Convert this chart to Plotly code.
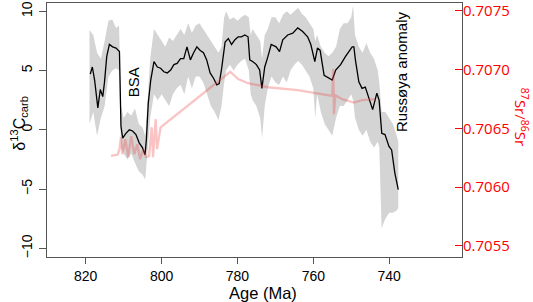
import plotly.graph_objects as go

# d13C carb (black line)
c_age = [818.8, 818.25, 817.65, 816.8, 816.15, 815.5, 815.05, 814.45, 813.75, 812.9, 812.0, 811.1,
         810.7, 810.25, 809.4, 808.5, 807.65, 806.75, 805.9, 805.05, 804.35, 804.0, 803.5, 802.85,
         802.0, 801.1, 800.25, 799.4, 798.5, 797.6, 796.75, 795.9, 795.0, 794.15, 793.3, 792.4,
         791.55, 790.7, 789.8, 788.95, 788.1, 787.2, 786.3, 785.45, 784.8, 784.15, 783.25, 782.4,
         781.55, 780.65, 779.8, 778.95, 778.05, 777.2, 776.75, 775.9, 775.0, 774.15, 773.55, 772.8,
         771.95, 771.1, 769.8, 768.9, 768.05, 766.75, 765.4, 764.1, 762.8, 761.5, 760.65, 759.6,
         758.9, 758.2, 757.15, 755.85, 755.0, 754.1, 752.8, 751.5, 750.6, 749.75, 749.3, 748.9,
         748.0, 747.15, 746.3, 745.4, 744.35, 743.25, 742.65, 741.95, 741.1, 740.05, 739.35, 738.5, 737.6]
c_val = [4.7, 5.3, 4.2, 1.85, 3.4, 2.8, 4.0, 6.2, 7.2, 7.0, 6.9, 6.6,
         0.3, -0.7, -0.3, 0.0, -0.1, -0.4, -1.1, -1.5, -2.1, -0.8, 2.25, 4.2,
         5.75, 5.3, 5.2, 4.9, 4.8, 5.05, 5.5, 5.6, 6.0, 6.0, 7.0, 5.9,
         6.5, 7.0, 6.7, 6.5, 5.9, 4.8, 4.35, 3.8, 3.9, 5.2, 7.4, 7.7,
         7.2, 7.6, 7.85, 7.85, 8.0, 7.85, 5.9, 5.75, 5.5, 5.05, 3.5, 5.3,
         6.2, 7.2, 7.0, 6.6, 7.6, 8.0, 8.15, 8.6, 8.3, 7.85, 7.2, 5.75,
         6.9, 6.7, 4.6, 4.35, 4.2, 5.05, 5.5, 6.2, 6.6, 7.0, 7.0, 5.9,
         4.05, 3.5, 3.6, 2.8, 1.7, 3.1, 2.5, -0.3, -0.4, -1.4, -1.7, -3.65, -5.05]

# uncertainty envelope (grey band)
b_age = [819.0, 818.0, 817.0, 816.0, 815.0, 814.0, 813.0, 812.0, 811.2, 810.7, 810.0, 809.0, 808.0,
         807.0, 806.0, 805.0, 804.3, 803.8, 803.0, 802.0, 801.0, 800.0, 799.0, 798.0, 797.0, 796.0,
         795.0, 794.0, 793.0, 792.0, 791.0, 790.0, 789.0, 788.0, 787.0, 786.0, 785.0, 784.2, 783.5,
         783.0, 782.0, 781.0, 780.0, 779.0, 778.0, 777.0, 776.5, 776.0, 775.0, 774.0, 773.5, 772.8,
         772.0, 771.0, 770.0, 769.0, 768.0, 767.0, 766.0, 765.0, 764.0, 763.0, 762.0, 761.0, 760.0,
         759.5, 759.0, 758.0, 757.0, 756.0, 755.0, 754.0, 753.0, 752.0, 751.0, 750.0, 749.5, 749.0,
         748.0, 747.0, 746.0, 745.0, 744.0, 743.0, 742.6, 742.0, 741.0, 740.0, 739.0, 738.0, 737.6]
b_up = [8.4, 8.0, 6.5, 6.0, 7.5, 9.2, 9.3, 8.6, 8.8, 2.0, 1.0, 1.5, 1.2,
        1.8, 0.5, 0.2, -0.5, 2.0, 6.0, 8.5, 8.0, 7.5, 7.0, 7.8, 7.5, 8.0,
        8.5, 8.0, 9.0, 8.2, 8.8, 9.0, 8.5, 8.0, 7.5, 7.0, 6.5, 7.0, 9.5,
        10.0, 9.3, 9.5, 9.2, 9.5, 9.7, 9.5, 8.0, 8.5, 8.0, 7.5, 6.0, 8.0,
        8.5, 9.5, 9.5, 9.0, 9.7, 10.0, 9.7, 10.0, 10.3, 9.8, 9.5, 9.0, 8.5,
        7.5, 8.0, 7.0, 6.5, 6.2, 6.5, 7.0, 8.5, 9.0, 9.0, 9.5, 10.5, 8.0,
        7.0, 6.5, 7.3, 6.5, 6.0, 5.0, 4.0, 1.5, 1.5, 1.0, 0.5, -0.5, -1.0]
b_lo = [0.5, 1.5, -0.5, 1.0, 2.0, 4.5, 5.0, 5.2, 5.0, -1.5, -2.0, -2.5, -2.0,
        -2.8, -3.5, -3.8, -4.2, -2.5, 1.0, 3.0, 2.5, 3.0, 2.5, 2.0, 3.0, 3.5,
        3.8, 3.0, 4.5, 3.5, 4.5, 4.5, 4.0, 3.0, 2.0, 1.5, 0.8, 2.0, 4.0,
        5.0, 5.5, 5.0, 5.5, 5.8, 6.0, 5.0, 3.0, 2.5, 2.0, 1.0, -0.7, 2.0,
        3.5, 4.5, 4.0, 3.8, 4.5, 4.0, 5.0, 5.5, 5.8, 5.5, 5.0, 4.5, 3.5,
        1.0, 3.0, 1.5, 0.5, 0.0, -0.5, 1.0, 2.0, 2.0, 2.5, 3.0, 2.5, 1.0,
        0.0, -0.5, 0.0, -1.0, -1.5, -1.0, -1.5, -8.3, -7.5, -7.0, -7.0, -6.8, -6.6]

# 87Sr/86Sr (pink line)
s_age = [813.3, 811.55, 811.1, 810.7, 810.35, 809.55, 808.8, 808.0, 807.2, 806.4, 805.65, 804.85,
         804.1, 803.3, 802.6, 802.25, 801.55, 801.2, 800.25, 782.4, 781.9, 779.8, 777.2, 771.95,
         764.1, 755.0, 754.75, 754.55, 754.2, 752.4, 749.3, 747.15, 743.7]
s_val = [0.706267, 0.706278, 0.706324, 0.706426, 0.706281, 0.706409, 0.706256, 0.706434, 0.706281,
         0.706366, 0.706239, 0.706324, 0.706256, 0.706264, 0.706511, 0.706256, 0.706579, 0.706324,
         0.706509, 0.706977, 0.706983, 0.706920, 0.706885, 0.706851, 0.706826, 0.706777, 0.707005,
         0.706622, 0.706783, 0.706749, 0.706721, 0.706741, 0.706749]

x_ticks = [820, 800, 780, 760, 740]
y_ticks = [-10, -5, 0, 5, 10]
y2_ticks = [0.7055, 0.7060, 0.7065, 0.7070, 0.7075]

fig = go.Figure()
fig.add_trace(go.Scatter(x=b_age + b_age[::-1], y=b_up + b_lo[::-1], fill="toself",
                         fillcolor="#d4d4d4", line=dict(width=0), mode="lines",
                         hoverinfo="skip", showlegend=False))
fig.add_trace(go.Scatter(x=s_age, y=s_val, yaxis="y2", mode="lines",
                         line=dict(color="rgba(240,70,70,0.32)", width=2.3), showlegend=False))
fig.add_trace(go.Scatter(x=c_age, y=c_val, mode="lines",
                         line=dict(color="black", width=1.3), showlegend=False))

axcol = "#555555"
fig.update_layout(
    width=533, height=302,
    margin=dict(l=47, r=71, t=3, b=45, autoexpand=False),
    plot_bgcolor="white", paper_bgcolor="white",
    font=dict(family="Liberation Sans, Arial, sans-serif", size=14, color="black"),
    xaxis=dict(range=[830.2, 720.8], tickvals=x_ticks, ticks="outside", ticklen=6,
               tickcolor=axcol, showline=True, linecolor=axcol, linewidth=1, mirror=True,
               showgrid=False, zeroline=False, tickfont=dict(size=14), automargin=False),
    yaxis=dict(range=[-10.73, 10.7], tickvals=y_ticks, ticks="outside", ticklen=7,
               tickcolor=axcol, showline=True, linecolor=axcol, linewidth=1, mirror=True,
               showgrid=False, zeroline=False, tickangle=-90, tickfont=dict(size=14),
               ticklabelstandoff=1, automargin=False),
    yaxis2=dict(range=[0.705406, 0.707568], tickvals=y2_ticks, tickformat=".4f",
                overlaying="y", side="right", ticks="inside", ticklen=7, tickcolor="red",
                showline=False, showgrid=False, zeroline=False, automargin=False,
                tickfont=dict(family="Open Sans, sans-serif", size=15, color="red"),
                ticklabelstandoff=0),
    annotations=[
        dict(text="Age (Ma)", xref="paper", yref="paper", x=0.521, y=-0.14,
             showarrow=False, font=dict(size=16.5), xanchor="center", yanchor="middle"),
        dict(text="δ<sup>13</sup>C<sub>carb</sub>", xref="paper", yref="paper", x=-0.068, y=0.528,
             showarrow=False, textangle=-90, font=dict(size=16), xanchor="center", yanchor="middle"),
        dict(text="<sup>87</sup>Sr/<sup>86</sup>Sr", xref="paper", yref="paper", x=1.145, y=0.551,
             showarrow=False, textangle=90, font=dict(family="Open Sans, sans-serif", size=15, color="red"),
             xanchor="center", yanchor="middle"),
        dict(text="BSA", x=807.2, y=4.04, xref="x", yref="y", showarrow=False, textangle=-90,
             font=dict(size=15), xanchor="center", yanchor="middle"),
        dict(text="Russøya anomaly", x=736.8, y=4.9, xref="x", yref="y", showarrow=False,
             textangle=-90, font=dict(size=15), xanchor="center", yanchor="middle"),
    ],
)
fig.write_html("out.html", config={"displayModeBar": False},
               post_script="document.body.style.margin='0';")
